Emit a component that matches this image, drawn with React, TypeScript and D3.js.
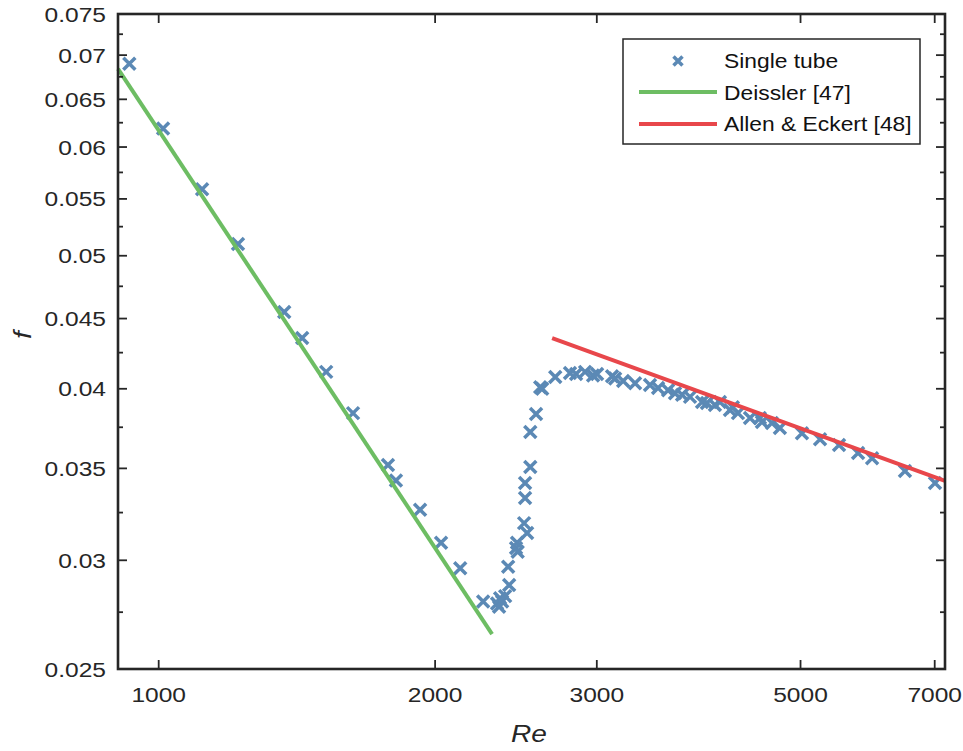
import React from "react";
import * as d3 from "d3";

// measured points, single tube
const reValues = [
  929, 1011, 1115, 1220, 1370, 1433, 1522, 1628, 1777, 1813, 1926, 2030, 2130, 2256,
  2336, 2348, 2354, 2366, 2384, 2408, 2402, 2450, 2456, 2460, 2500, 2519, 2506, 2506,
  2539, 2539, 2576, 2603, 2616, 2703, 2805, 2848, 2913, 2972, 3002, 3117, 3141, 3205,
  3302, 3428, 3498, 3587, 3650, 3715, 3790, 3906, 3954, 4034, 4085, 4189, 4220, 4274,
  4405, 4516, 4539, 4654, 4748, 5018, 5251, 5507, 5776, 5983, 6497, 7005,
];
const fValues = [
  0.069, 0.0619, 0.0559, 0.051, 0.0455, 0.04355, 0.04115, 0.0384, 0.0352, 0.0343, 0.03265,
  0.0309, 0.0296, 0.028, 0.0279, 0.02775, 0.02815, 0.028, 0.02825, 0.02878, 0.02968,
  0.03063, 0.0309, 0.03043, 0.03193, 0.0314, 0.0333, 0.03415, 0.03508, 0.0372, 0.03835,
  0.0401, 0.04, 0.0408, 0.04108, 0.041, 0.04115, 0.0409, 0.041, 0.04085, 0.0407, 0.04052,
  0.04038, 0.04025, 0.04005, 0.0399, 0.0397, 0.0396, 0.03946, 0.03913, 0.03905, 0.03892,
  0.03913, 0.0386, 0.03878, 0.0384, 0.03808, 0.03808, 0.03783, 0.03777, 0.03745, 0.03713,
  0.03675, 0.0364, 0.03592, 0.0356, 0.03485, 0.03415,
];

const deisslerRe = [903, 2307];
const deisslerF = [0.0684, 0.02651];

const allenRe = [2682, 7183];
const allenF = [0.04355, 0.03428];

const xTicks = [1000, 2000, 3000, 5000, 7000];
const yTicks = [0.025, 0.03, 0.035, 0.04, 0.045, 0.05, 0.055, 0.06, 0.065, 0.07, 0.075];
const yMinor = [0.0275, 0.0325, 0.0375, 0.0425, 0.0475, 0.0525, 0.0575, 0.0625, 0.0675, 0.0725];

const legendLabels = ["Single tube", "Deissler [47]", "Allen & Eckert [48]"];

const W = 963, H = 751;
const left = 118, right = 945, top = 14, bottom = 669;
const axisColor = "#262626";
const blue = "#5b89b5";
const green = "#6dbd63";
const red = "#e8474b";
const font = "'Liberation Sans', Arial, Helvetica, sans-serif";
const stretch = 1.17; // the figure's text is a bit wide

function Txt(props: {
  x: number;
  y: number;
  size: number;
  anchor?: "start" | "middle" | "end";
  italic?: boolean;
  rotate?: number;
  fill?: string;
  children: React.ReactNode;
}) {
  const { x, y, size, anchor = "start", italic, rotate = 0, fill = axisColor } = props;
  return (
    <text
      transform={`translate(${x},${y}) rotate(${rotate}) scale(${stretch},1)`}
      fontSize={size}
      textAnchor={anchor}
      fontStyle={italic ? "italic" : "normal"}
      fill={fill}
    >
      {props.children}
    </text>
  );
}

function Cross({ x, y, s = 6 }: { x: number; y: number; s?: number }) {
  return (
    <path
      d={`M${x - s},${y - s}L${x + s},${y + s}M${x - s},${y + s}L${x + s},${y - s}`}
      stroke={blue}
      strokeWidth={3.5}
      fill="none"
    />
  );
}

export default function App() {
  const x = d3.scaleLog().domain([903, 7183]).range([left, right]);
  const y = d3.scaleLog().domain([0.025, 0.075]).range([bottom, top]);

  const line = d3
    .line<[number, number]>()
    .x((d) => x(d[0]))
    .y((d) => y(d[1]));

  const deissler = deisslerRe.map((r, i) => [r, deisslerF[i]] as [number, number]);
  const allen = allenRe.map((r, i) => [r, allenF[i]] as [number, number]);

  const major = 9, minor = 5;

  return (
    <svg
      width={W}
      height={H}
      style={{ position: "absolute", left: 0, top: 0, background: "#fff" }}
      fontFamily={font}
    >
      <rect x={0} y={0} width={W} height={H} fill="#fff" />

      {/* data */}
      <g>
        {reValues.map((r, i) => (
          <Cross key={"p" + i} x={x(r)} y={y(fValues[i])} />
        ))}
      </g>
      <path d={line(deissler) || ""} stroke={green} strokeWidth={4} fill="none" />
      <path d={line(allen) || ""} stroke={red} strokeWidth={4} fill="none" />

      {/* ticks */}
      <g stroke={axisColor} strokeWidth={1.8}>
        {xTicks.map((t) => (
          <g key={"xt" + t}>
            <line x1={x(t)} x2={x(t)} y1={bottom} y2={bottom - major} />
            <line x1={x(t)} x2={x(t)} y1={top} y2={top + major} />
          </g>
        ))}
        {yTicks.map((t) => (
          <g key={"yt" + t}>
            <line x1={left} x2={left + major} y1={y(t)} y2={y(t)} />
            <line x1={right} x2={right - major} y1={y(t)} y2={y(t)} />
          </g>
        ))}
        {yMinor.map((t) => (
          <g key={"ym" + t}>
            <line x1={left} x2={left + minor} y1={y(t)} y2={y(t)} />
            <line x1={right} x2={right - minor} y1={y(t)} y2={y(t)} />
          </g>
        ))}
      </g>
      <rect
        x={left}
        y={top}
        width={right - left}
        height={bottom - top}
        fill="none"
        stroke={axisColor}
        strokeWidth={2.6}
      />

      {/* tick labels */}
      {xTicks.map((t) => (
        <Txt key={"xl" + t} x={x(t)} y={bottom + 33} size={21} anchor="middle">
          {t}
        </Txt>
      ))}
      {yTicks.map((t) => (
        <Txt key={"yl" + t} x={106} y={y(t) + 7.5} size={21} anchor="end">
          {t}
        </Txt>
      ))}

      {/* axis titles */}
      <Txt x={529} y={742} size={24} anchor="middle" italic>
        Re
      </Txt>
      <Txt x={31} y={335} size={24} anchor="middle" italic rotate={-90}>
        f
      </Txt>

      {/* legend */}
      <g>
        <rect x={623} y={39} width={297} height={105} fill="#fff" stroke={axisColor} strokeWidth={1.5} />
        <Cross x={678} y={61} s={4.5} />
        <line x1={639} x2={717} y1={92} y2={92} stroke={green} strokeWidth={4} />
        <line x1={639} x2={717} y1={124} y2={124} stroke={red} strokeWidth={4} />
        {legendLabels.map((l, i) => (
          <Txt key={l} x={724} y={68 + i * 31.5} size={19.5} fill="#111">
            {l}
          </Txt>
        ))}
      </g>
    </svg>
  );
}
